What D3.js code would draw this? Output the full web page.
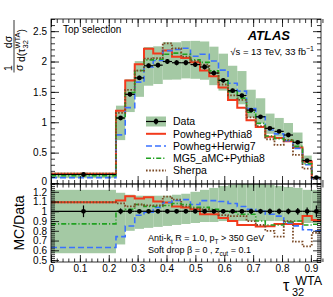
<!DOCTYPE html>
<html>
<head>
<meta charset="utf-8">
<script src="https://cdn.jsdelivr.net/npm/d3@7"></script>
<style>
  body { margin: 0; background: #fff; }
  svg { display: block; }
  text { font-family: "Liberation Sans", Arial, sans-serif; fill: #000; }
</style>
</head>
<body>
<div id="chartArea"></div>
<script>
// bin edges of tau32^WTA
var binEdges = [0, 0.225, 0.257, 0.290, 0.322, 0.354, 0.387, 0.419, 0.451, 0.483, 0.516, 0.548,
                0.580, 0.613, 0.645, 0.677, 0.709, 0.742, 0.774, 0.806, 0.838, 0.871, 0.903, 0.935];

// unfolded data, 1/sigma dsigma/dtau32
var dataVals = [0.14, 1.07, 1.46, 1.73, 1.93, 1.94, 2.00, 1.98, 1.98, 1.95, 1.91, 1.81,
                1.69, 1.52, 1.44, 1.20, 1.09, 0.90, 0.85, 0.79, 0.67, 0.37, 0.09];
// relative stat error
var dataStat = [0.06, 0.03, 0.025, 0.02, 0.02, 0.02, 0.02, 0.02, 0.02, 0.02, 0.02, 0.02,
                0.02, 0.02, 0.02, 0.025, 0.025, 0.03, 0.03, 0.03, 0.035, 0.04, 0.06];
// total uncertainty band (relative to data)
var bandLo = [0.57, 0.66, 0.80, 0.82, 0.83, 0.84, 0.85, 0.86, 0.87, 0.88, 0.89, 0.89,
              0.90, 0.90, 0.90, 0.90, 0.90, 0.90, 0.90, 0.89, 0.89, 0.88, 0.88];
var bandHi = [1.22, 1.19, 1.17, 1.16, 1.16, 1.16, 1.16, 1.17, 1.18, 1.20, 1.22, 1.24,
              1.26, 1.27, 1.28, 1.28, 1.28, 1.27, 1.26, 1.25, 1.24, 1.22, 1.22];

// MC predictions
var powhegPythia = [0.153, 1.188, 1.686, 1.955, 2.210, 2.134, 2.180, 2.079, 2.059, 1.989, 1.853, 1.756,
                    1.572, 1.368, 1.238, 1.032, 0.921, 0.761, 0.740, 0.687, 0.583, 0.352, 0.082];
var powhegHerwig = [0.088, 0.792, 1.241, 1.661, 1.911, 2.018, 2.180, 2.198, 2.218, 2.087, 2.120, 2.009,
                    1.859, 1.642, 1.512, 1.224, 1.090, 0.873, 0.808, 0.695, 0.570, 0.300, 0.072];
var mg5Pythia    = [0.122, 1.070, 1.489, 1.851, 2.027, 2.037, 2.120, 2.138, 2.119, 2.028, 1.986, 1.846,
                    1.690, 1.505, 1.397, 1.164, 0.981, 0.774, 0.731, 0.703, 0.603, 0.318, 0.078];
var sherpa       = [0.153, 1.156, 1.533, 1.851, 2.046, 2.056, 2.300, 2.218, 2.079, 2.009, 1.948, 1.810,
                    1.622, 1.444, 1.368, 1.080, 0.937, 0.720, 0.629, 0.711, 0.462, 0.237, 0.070];

var seriesNames = ['Powheg+Pythia8', 'Powheg+Herwig7', 'MG5_aMC+Pythia8', 'Sherpa'];

var xTicks = [0, 0.1, 0.2, 0.3, 0.4, 0.5, 0.6, 0.7, 0.8, 0.9];
var yTicksTop = [0, 0.5, 1, 1.5, 2, 2.5];
var yTicksRatio = [0.5, 0.6, 0.7, 0.8, 0.9, 1, 1.1, 1.2];

var width = 333, height = 297;
var left = 51, right = 321;
var topY = 19, midY = 184, botY = 262;

var svg = d3.select('#chartArea').append('svg')
    .attr('width', width).attr('height', height);

var x = d3.scaleLinear().domain([0, 0.935]).range([left, right]);
var y = d3.scaleLinear().domain([0, 2.7]).range([183, topY]);
var yr = d3.scaleLinear().domain([0.48, 1.28]).range([botY, midY]);

var bandColor = '#a4c9a4';
var styles = [
  {color: '#f23a1c', width: 2, dash: null},
  {color: '#3a72ff', width: 1.6, dash: '6,3'},
  {color: '#21a121', width: 1.6, dash: '5,2,1.2,2'},
  {color: '#7b4a26', width: 1.8, dash: '1.6,1.6'}
];
var mcSets = [powhegPythia, powhegHerwig, mg5Pythia, sherpa];

var defs = svg.append('defs');
defs.append('clipPath').attr('id', 'clipTop').append('rect')
    .attr('x', left).attr('y', topY).attr('width', right - left).attr('height', midY - topY);
defs.append('clipPath').attr('id', 'clipBot').append('rect')
    .attr('x', left).attr('y', midY).attr('width', right - left).attr('height', botY - midY);

var bins = dataVals.map(function(d, i) {
  return {lo: binEdges[i], hi: binEdges[i + 1], c: (binEdges[i] + binEdges[i + 1]) / 2,
          v: d, st: dataStat[i], bl: bandLo[i], bh: bandHi[i]};
});

function stepPoints(vals, sy) {
  var pts = vals.map(function(v, i) { return [x(binEdges[i]), sy(v)]; });
  pts.push([x(binEdges[vals.length]), sy(vals[vals.length - 1])]);
  return pts;
}
var stepLine = d3.line().curve(d3.curveStepAfter);

// ---------- upper pad ----------
var gTop = svg.append('g').attr('clip-path', 'url(#clipTop)');
gTop.selectAll('rect.band').data(bins).enter().append('rect')
    .attr('x', function(d) { return x(d.lo); })
    .attr('width', function(d) { return x(d.hi) - x(d.lo); })
    .attr('y', function(d) { return y(d.v * d.bh); })
    .attr('height', function(d) { return y(d.v * d.bl) - y(d.v * d.bh); })
    .attr('fill', bandColor);

mcSets.forEach(function(vals, k) {
  gTop.append('path')
      .attr('d', stepLine(stepPoints(vals, y)))
      .attr('fill', 'none')
      .attr('stroke', styles[k].color)
      .attr('stroke-width', styles[k].width)
      .attr('stroke-dasharray', styles[k].dash);
});

function drawData(g, sy, ratio) {
  var pts = g.selectAll('g.pt').data(bins).enter().append('g');
  pts.append('line')
      .attr('x1', function(d) { return x(d.lo); })
      .attr('x2', function(d) { return x(d.hi); })
      .attr('y1', function(d) { return sy(ratio ? 1 : d.v); })
      .attr('y2', function(d) { return sy(ratio ? 1 : d.v); })
      .attr('stroke', '#000').attr('stroke-width', 1.2);
  pts.append('line')
      .attr('x1', function(d) { return x(d.c); })
      .attr('x2', function(d) { return x(d.c); })
      .attr('y1', function(d) { return ratio ? sy(1 - d.st) : sy(d.v * (1 - d.st)); })
      .attr('y2', function(d) { return ratio ? sy(1 + d.st) : sy(d.v * (1 + d.st)); })
      .attr('stroke', '#000').attr('stroke-width', 1.2);
  pts.append('circle')
      .attr('cx', function(d) { return x(d.c); })
      .attr('cy', function(d) { return sy(ratio ? 1 : d.v); })
      .attr('r', 2.4).attr('fill', '#000');
}
drawData(gTop, y, false);

// ---------- lower pad ----------
var gBot = svg.append('g').attr('clip-path', 'url(#clipBot)');
gBot.selectAll('rect.band').data(bins).enter().append('rect')
    .attr('x', function(d) { return x(d.lo); })
    .attr('width', function(d) { return x(d.hi) - x(d.lo); })
    .attr('y', function(d) { return yr(d.bh); })
    .attr('height', function(d) { return yr(d.bl) - yr(d.bh); })
    .attr('fill', bandColor);

mcSets.forEach(function(vals, k) {
  var ratios = vals.map(function(v, i) { return v / dataVals[i]; });
  gBot.append('path')
      .attr('d', stepLine(stepPoints(ratios, yr)))
      .attr('fill', 'none')
      .attr('stroke', styles[k].color)
      .attr('stroke-width', styles[k].width)
      .attr('stroke-dasharray', styles[k].dash);
});
drawData(gBot, yr, true);

// ---------- axes ----------
function minorVals(lo, hi, step) {
  return d3.range(Math.round(lo / step), Math.round(hi / step) + 1).map(function(i) { return +(i * step).toFixed(4); });
}
function axisPair(g, axisFn, scale, major, minor, majLen, minLen, labels, pad) {
  var a = g.append('g');
  a.call(axisFn(scale).tickValues(minor).tickSize(-minLen).tickFormat(''));
  var b = g.append('g');
  b.call(axisFn(scale).tickValues(major).tickSize(-majLen).tickPadding(pad || 4)
      .tickFormat(labels ? d3.format('~g') : ''));
  [a, b].forEach(function(s) {
    s.select('.domain').remove();
    s.selectAll('line').attr('stroke', '#000').attr('stroke-width', 0.8);
    s.selectAll('text').style('font-size', '10px').attr('fill', '#000');
  });
  return b;
}

// upper pad
axisPair(svg.append('g').attr('transform', 'translate(0,' + midY + ')'),
         d3.axisBottom, x, xTicks, minorVals(0, 0.93, 0.02), 8, 4, false);
axisPair(svg.append('g').attr('transform', 'translate(0,' + topY + ')'),
         d3.axisTop, x, xTicks, minorVals(0, 0.93, 0.02), 8, 4, false);
var yAxTop = axisPair(svg.append('g').attr('transform', 'translate(' + left + ',0)'),
         d3.axisLeft, y, yTicksTop, minorVals(0, 2.7, 0.1), 8, 4, true);
// the zero label sits just above the ratio pad
yAxTop.selectAll('text').filter(function(d) { return d === 0; }).attr('dy', '0.1em');
axisPair(svg.append('g').attr('transform', 'translate(' + right + ',0)'),
         d3.axisRight, y, yTicksTop, minorVals(0, 2.7, 0.1), 8, 4, false);

// lower pad
axisPair(svg.append('g').attr('transform', 'translate(0,' + botY + ')'),
         d3.axisBottom, x, xTicks, minorVals(0, 0.93, 0.02), 7, 3.5, true, 3);
axisPair(svg.append('g').attr('transform', 'translate(0,' + midY + ')'),
         d3.axisTop, x, xTicks, minorVals(0, 0.93, 0.02), 7, 3.5, false);
axisPair(svg.append('g').attr('transform', 'translate(' + left + ',0)'),
         d3.axisLeft, yr, yTicksRatio, minorVals(0.48, 1.28, 0.02), 8, 4, true);
axisPair(svg.append('g').attr('transform', 'translate(' + right + ',0)'),
         d3.axisRight, yr, yTicksRatio, minorVals(0.48, 1.28, 0.02), 8, 4, false);

// frames
svg.append('rect').attr('x', left).attr('y', topY).attr('width', right - left).attr('height', midY - topY)
    .attr('fill', 'none').attr('stroke', '#000').attr('stroke-width', 0.8);
svg.append('rect').attr('x', left).attr('y', midY).attr('width', right - left).attr('height', botY - midY)
    .attr('fill', 'none').attr('stroke', '#000').attr('stroke-width', 0.8);

// ---------- axis titles ----------
var yt = svg.append('g').attr('transform', 'translate(14,73) rotate(-90)');
yt.append('text').attr('x', 5).attr('y', -2.5).attr('text-anchor', 'middle').style('font-size', '10.5px').text('1');
yt.append('line').attr('x1', 0.5).attr('x2', 10).attr('y1', 0).attr('y2', 0).attr('stroke', '#000').attr('stroke-width', 0.8);
yt.append('text').attr('x', 5.2).attr('y', 8.5).attr('text-anchor', 'middle').style('font-size', '10.5px').text('σ');
yt.append('text').attr('x', 31).attr('y', -2.5).attr('text-anchor', 'middle').style('font-size', '10.5px').text('dσ');
yt.append('line').attr('x1', 10).attr('x2', 53).attr('y1', 0).attr('y2', 0).attr('stroke', '#000').attr('stroke-width', 0.8);
var den = yt.append('text').attr('x', 11).attr('y', 11).style('font-size', '10.5px');
den.append('tspan').text('d(τ');
den.append('tspan').attr('dy', 2.5).style('font-size', '7.5px').text('32');
den.append('tspan').attr('dx', -8.3).attr('dy', -7.5).style('font-size', '7.5px').text('WTA');
den.append('tspan').attr('dy', 5).text(')');

svg.append('text').attr('transform', 'translate(24,223) rotate(-90)')
    .attr('text-anchor', 'middle').style('font-size', '14px').text('MC/Data');

svg.append('text').attr('x', 283).attr('y', 291).style('font-size', '16px').text('τ');
svg.append('text').attr('x', 292).attr('y', 295.5).style('font-size', '11px').text('32');
svg.append('text').attr('x', 322).attr('y', 284.5).attr('text-anchor', 'end').style('font-size', '12.5px').text('WTA');

// ---------- labels ----------
svg.append('text').attr('x', 63).attr('y', 33).style('font-size', '10px').text('Top selection');
svg.append('text').attr('x', 290).attr('y', 40).attr('text-anchor', 'end')
    .style('font-size', '13px').style('font-weight', 'bold').style('font-style', 'italic').text('ATLAS');
var lumi = svg.append('text').attr('x', 314).attr('y', 55).attr('text-anchor', 'end').style('font-size', '9.5px');
lumi.append('tspan').text('√s = 13 TeV, 33 fb');
lumi.append('tspan').attr('dy', -4).style('font-size', '7px').text('−1');

var ann1 = svg.append('text').attr('x', 148).attr('y', 241).style('font-size', '9px');
ann1.append('tspan').text('Anti-k');
ann1.append('tspan').attr('dy', 2.5).style('font-size', '6.5px').text('t');
ann1.append('tspan').attr('dy', -2.5).text(' R = 1.0, p');
ann1.append('tspan').attr('dy', 2.5).style('font-size', '6.5px').text('T');
ann1.append('tspan').attr('dy', -2.5).text(' > 350 GeV');
var ann2 = svg.append('text').attr('x', 148).attr('y', 253).style('font-size', '9px');
ann2.append('tspan').text('Soft drop β = 0 , z');
ann2.append('tspan').attr('dy', 2.5).style('font-size', '6.5px').text('cut');
ann2.append('tspan').attr('dy', -2.5).text(' = 0.1');

// ---------- legend ----------
var legRows = [121.5, 133.8, 146, 158.3, 170.5];
var leg = svg.append('g');
leg.append('rect').attr('x', 146).attr('y', legRows[0] - 5).attr('width', 20).attr('height', 10).attr('fill', bandColor);
leg.append('line').attr('x1', 146).attr('x2', 166).attr('y1', legRows[0]).attr('y2', legRows[0]).attr('stroke', '#000').attr('stroke-width', 1.2);
leg.append('line').attr('x1', 156).attr('x2', 156).attr('y1', legRows[0] - 3).attr('y2', legRows[0] + 3).attr('stroke', '#000').attr('stroke-width', 1.2);
leg.append('circle').attr('cx', 156).attr('cy', legRows[0]).attr('r', 2.4).attr('fill', '#000');
leg.append('text').attr('x', 173).attr('y', legRows[0] + 3.7).style('font-size', '10.5px').text('Data');
seriesNames.forEach(function(name, k) {
  var yy = legRows[k + 1];
  leg.append('line').attr('x1', 146).attr('x2', 166).attr('y1', yy).attr('y2', yy)
      .attr('stroke', styles[k].color).attr('stroke-width', styles[k].width)
      .attr('stroke-dasharray', styles[k].dash);
  leg.append('text').attr('x', 173).attr('y', yy + 3.7).style('font-size', '10.5px').text(name);
});
</script>
</body>
</html>
